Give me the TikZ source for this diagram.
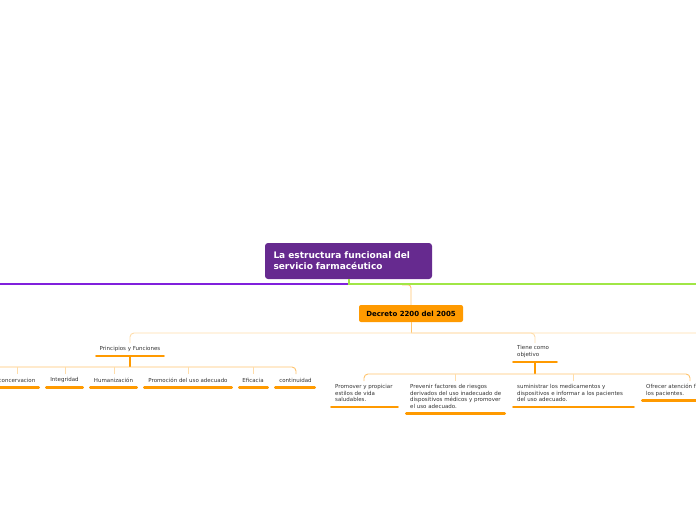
\documentclass[tikz,border=0pt]{standalone}
\usepackage{fontspec}
\setmainfont{DejaVu Sans}
\definecolor{rootpurple}{HTML}{662A8F}
\definecolor{brpurple}{RGB}{128,32,220}
\definecolor{brgreen}{RGB}{160,230,70}
\definecolor{orangemain}{HTML}{FF9A00}
\definecolor{lightor}{HTML}{FFDDAA}
\definecolor{midor}{HTML}{FFC46E}
\definecolor{txtgray}{HTML}{333333}
\begin{document}
\begin{tikzpicture}[x=1pt,y=-1pt,
  rootbox/.style={fill=rootpurple, rounded corners=3pt, text=white,
    font=\bfseries\fontsize{9}{11}\selectfont, minimum width=167pt,
    minimum height=36pt, text width=150pt, inner xsep=8.5pt, align=left},
  decbox/.style={fill=orangemain, rounded corners=2pt, text=black,
    font=\bfseries\fontsize{7}{8}\selectfont, minimum width=104pt,
    minimum height=17pt, inner sep=0pt},
  lbl/.style={font=\fontsize{5.5}{6.5}\selectfont, text=txtgray, inner sep=0pt, align=left},
  bar/.style={line width=2.6pt, line cap=round, draw=orangemain},
  lightln/.style={draw=lightor, line width=0.9pt, rounded corners=4pt},
  midln/.style={draw=midor, line width=0.9pt, rounded corners=4pt},
  stemln/.style={draw=orangemain, line width=1.3pt},
  purpleconn/.style={draw=brpurple, line width=2pt},
  greenconn/.style={draw=brgreen, line width=2pt}]
\useasboundingbox (0,0) rectangle (696,520);

% root and main branches
\node[rootbox] (root) at (348.5,261) {La estructura funcional del\\servicio farmacéutico};
\coordinate (leftend) at (0,283.5);
\coordinate (rightend) at (696,283.5);

\node[decbox] (dec) at (411,313.5) {Decreto 2200 del 2005};
\coordinate (decin) at (402,284.8);
\draw[draw=midor, line width=0.9pt, rounded corners=3pt] (decin) -| (dec.north);

\draw[purpleconn] (root.south) |- (leftend);
\draw[greenconn] (root.south) |- (rightend);

% second level
\coordinate (hub1) at (411,333);
\coordinate (farright) at (696,333);
\draw[midln] (dec.south) -- (hub1);
\node[lbl] (pf) at (130,349) {Principios y Funciones};
\coordinate (pftop) at (130,343);
\node[lbl, anchor=north west] (tc) at (517,345.6) {Tiene como\\objetivo};
\coordinate (tctop) at (535,343);
\draw[lightln] (pftop) |- (farright);
\draw[lightln] (tctop) |- (hub1);

% Principios underline and children
\coordinate (pfb1) at (96.3,356);
\coordinate (pfb2) at (163.7,356);
\draw[bar] (pfb1) -- (pfb2);
\coordinate (pfstem) at (130,356);
\coordinate (pfhub) at (130,367);
\draw[stemln] (pfstem) -- (pfhub);

\node[lbl] (c1) at (17,380) {concervacion};
\node[lbl] (c2) at (64.5,380) {Integridad};
\node[lbl] (c3) at (113.5,380) {Humanización};
\node[lbl] (c4) at (188,380) {Promoción del uso adecuado};
\node[lbl] (c5) at (253,380) {Eficacia};
\node[lbl] (c6) at (295.5,380) {continuidad};

\coordinate (pleft) at (0,367);
\coordinate (t1) at (17,374);
\coordinate (t2) at (65,374);
\coordinate (t3) at (114,374);
\coordinate (t4) at (188,374);
\coordinate (t5) at (253,374);
\coordinate (t6) at (296,374);
\draw[midln] (pleft) -| (t6);
\foreach \t in {t1,t2,t3,t4,t5}{
  \draw[lightor, line width=0.9pt] (\t |- pleft) -- (\t);
}
\draw[bar] (-2,387.5) -- (38.7,387.5);
\draw[bar] (46.3,387.5) -- (82.7,387.5);
\draw[bar] (90.3,387.5) -- (136.7,387.5);
\draw[bar] (144.3,387.5) -- (231.7,387.5);
\draw[bar] (239.3,387.5) -- (267.7,387.5);
\draw[bar] (275.3,387.5) -- (314.7,387.5);

% Tiene como objetivo underline and children
\draw[bar] (513.3,362) -- (556.7,362);
\coordinate (tcstem) at (535,362);
\coordinate (tchub) at (535,374);
\draw[stemln] (tcstem) -- (tchub);

\coordinate (u1) at (364,381);
\coordinate (u2) at (455,381);
\coordinate (u3) at (573,381);
\coordinate (u4) at (690,381);
\coordinate (uhub) at (364,374);
\draw[midln] (u1) |- (tchub);
\draw[midln] (tchub) -| (u4);
\draw[lightor, line width=0.9pt] (u2 |- uhub) -- (u2);
\draw[lightor, line width=0.9pt] (u3 |- uhub) -- (u3);

\node[lbl, anchor=north west] (o1) at (335,384.2) {Promover y propiciar\\estilos de vida\\saludables.};
\node[lbl, anchor=north west] (o2) at (410,384.2) {Prevenir factores de riesgos\\derivados del uso inadecuado de\\dispositivos médicos y promover\\el uso adecuado.};
\node[lbl, anchor=north west] (o3) at (517,384.2) {suministrar los medicamentos y\\dispositivos e informar a los pacientes\\del uso adecuado.};
\node[lbl, anchor=north west] (o4) at (646,384.2) {Ofrecer atención fácil a\\los pacientes.};

\draw[bar] (331.3,407) -- (397.7,407);
\draw[bar] (406.3,413.3) -- (504.7,413.3);
\draw[bar] (513.3,407) -- (633.7,407);
\draw[bar] (642.3,400.3) -- (700,400.3);
\end{tikzpicture}
\end{document}
